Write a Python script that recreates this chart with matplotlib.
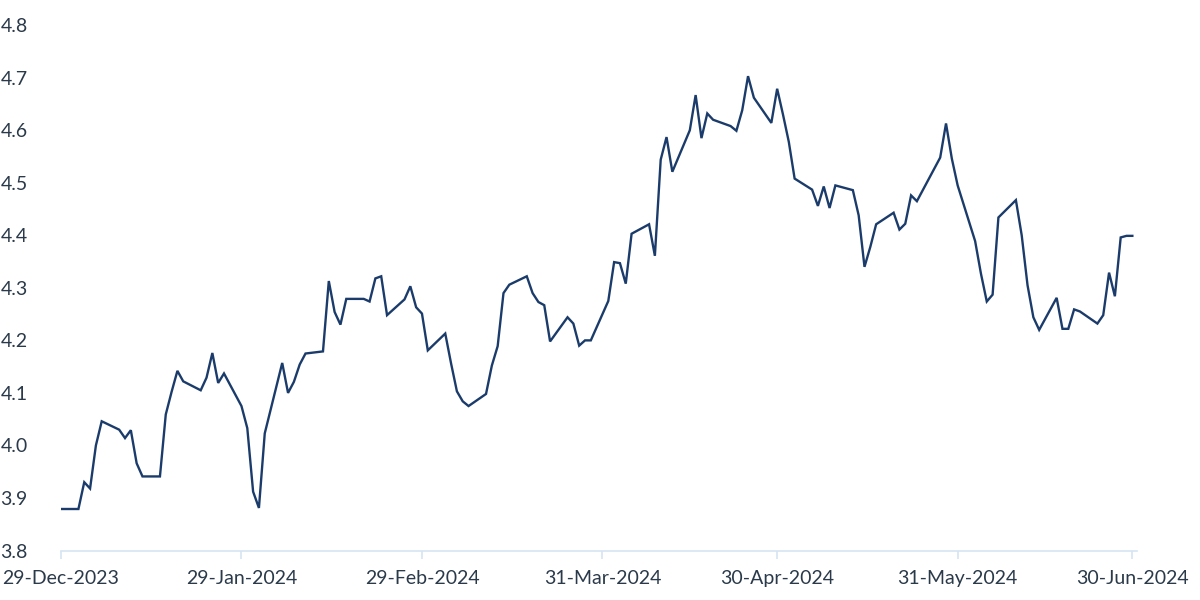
import matplotlib
matplotlib.use("Agg")
import matplotlib.pyplot as plt
import matplotlib.dates as mdates
import pandas as pd

# values, one per trading day (holidays keep previous value)
dates = [
    "2023-12-29", "2024-01-01", "2024-01-02", "2024-01-03", "2024-01-04", "2024-01-05",
    "2024-01-08", "2024-01-09", "2024-01-10", "2024-01-11", "2024-01-12",
    "2024-01-15", "2024-01-16", "2024-01-17", "2024-01-18", "2024-01-19",
    "2024-01-22", "2024-01-23", "2024-01-24", "2024-01-25", "2024-01-26",
    "2024-01-29", "2024-01-30", "2024-01-31", "2024-02-01", "2024-02-02",
    "2024-02-05", "2024-02-06", "2024-02-07", "2024-02-08", "2024-02-09",
    "2024-02-12", "2024-02-13", "2024-02-14", "2024-02-15", "2024-02-16",
    "2024-02-19", "2024-02-20", "2024-02-21", "2024-02-22", "2024-02-23",
    "2024-02-26", "2024-02-27", "2024-02-28", "2024-02-29", "2024-03-01",
    "2024-03-04", "2024-03-05", "2024-03-06", "2024-03-07", "2024-03-08",
    "2024-03-11", "2024-03-12", "2024-03-13", "2024-03-14", "2024-03-15",
    "2024-03-18", "2024-03-19", "2024-03-20", "2024-03-21", "2024-03-22",
    "2024-03-25", "2024-03-26", "2024-03-27", "2024-03-28", "2024-03-29",
    "2024-04-01", "2024-04-02", "2024-04-03", "2024-04-04", "2024-04-05",
    "2024-04-08", "2024-04-09", "2024-04-10", "2024-04-11", "2024-04-12",
    "2024-04-15", "2024-04-16", "2024-04-17", "2024-04-18", "2024-04-19",
    "2024-04-22", "2024-04-23", "2024-04-24", "2024-04-25", "2024-04-26",
    "2024-04-29", "2024-04-30", "2024-05-01", "2024-05-02", "2024-05-03",
    "2024-05-06", "2024-05-07", "2024-05-08", "2024-05-09", "2024-05-10",
    "2024-05-13", "2024-05-14", "2024-05-15", "2024-05-16", "2024-05-17",
    "2024-05-20", "2024-05-21", "2024-05-22", "2024-05-23", "2024-05-24",
    "2024-05-28", "2024-05-29", "2024-05-30", "2024-05-31",
    "2024-06-03", "2024-06-04", "2024-06-05", "2024-06-06", "2024-06-07",
    "2024-06-10", "2024-06-11", "2024-06-12", "2024-06-13", "2024-06-14",
    "2024-06-17", "2024-06-18", "2024-06-19", "2024-06-20", "2024-06-21",
    "2024-06-24", "2024-06-25", "2024-06-26", "2024-06-27", "2024-06-28",
    "2024-06-29", "2024-06-30",
]
values = [
    3.879, 3.879, 3.930, 3.918, 4.000, 4.046,
    4.030, 4.014, 4.029, 3.966, 3.941,
    3.941, 4.059, 4.102, 4.142, 4.122,
    4.105, 4.129, 4.176, 4.119, 4.137,
    4.075, 4.033, 3.912, 3.881, 4.023,
    4.157, 4.100, 4.121, 4.154, 4.175,
    4.179, 4.313, 4.254, 4.230, 4.279,
    4.279, 4.274, 4.318, 4.322, 4.248,
    4.278, 4.303, 4.263, 4.251, 4.181,
    4.213, 4.156, 4.103, 4.084, 4.075,
    4.098, 4.152, 4.189, 4.290, 4.306,
    4.322, 4.290, 4.273, 4.267, 4.198,
    4.244, 4.232, 4.190, 4.200, 4.200,
    4.275, 4.349, 4.347, 4.308, 4.403,
    4.421, 4.361, 4.544, 4.587, 4.521,
    4.600, 4.667, 4.585, 4.632, 4.620,
    4.608, 4.599, 4.638, 4.703, 4.662,
    4.614, 4.679, 4.630, 4.578, 4.508,
    4.487, 4.456, 4.493, 4.452, 4.495,
    4.486, 4.438, 4.340, 4.378, 4.421,
    4.443, 4.411, 4.422, 4.476, 4.465,
    4.548, 4.613, 4.546, 4.495,
    4.389, 4.327, 4.274, 4.287, 4.434,
    4.467, 4.400, 4.305, 4.244, 4.220,
    4.281, 4.222, 4.222, 4.259, 4.255,
    4.232, 4.248, 4.329, 4.284, 4.396,
    4.399, 4.399,
]
tick_dates = ["2023-12-29", "2024-01-29", "2024-02-29", "2024-03-31",
              "2024-04-30", "2024-05-31", "2024-06-30"]
tick_labels = ["29-Dec-2023", "29-Jan-2024", "29-Feb-2024", "31-Mar-2024",
               "30-Apr-2024", "31-May-2024", "30-Jun-2024"]
y_ticks = [3.8, 3.9, 4.0, 4.1, 4.2, 4.3, 4.4, 4.5, 4.6, 4.7, 4.8]

plt.rcParams['font.family'] = ['Lato', 'DejaVu Sans']
text_col = '#2b3a4a'
axis_col = '#d5e5f4'

x = pd.to_datetime(dates)
fig = plt.figure(figsize=(12, 6), dpi=100)
ax = fig.add_axes([0.0508, 0.0825, 0.8967, 0.8755])
ax.plot(x, values, color='#1b3c6b', linewidth=1.7, solid_joinstyle='miter')

ax.set_xlim(pd.Timestamp("2023-12-29"), pd.Timestamp("2023-12-29") + pd.Timedelta(days=184.8))
ax.set_ylim(3.8, 4.8)
ax.set_yticks(y_ticks)
ax.set_yticklabels([f"{v:.1f}" for v in y_ticks])
ax.set_xticks(pd.to_datetime(tick_dates))
ax.set_xticklabels(tick_labels)

for s in ['top', 'right', 'left']:
    ax.spines[s].set_visible(False)
ax.spines['bottom'].set_color(axis_col)
ax.spines['bottom'].set_linewidth(1.2)
ax.tick_params(axis='x', colors=axis_col, length=6, width=1.2, labelcolor=text_col,
               labelsize=14, pad=8)
ax.tick_params(axis='y', length=0, labelcolor=text_col, labelsize=14, pad=24)

fig.savefig("out.png", dpi=100)
